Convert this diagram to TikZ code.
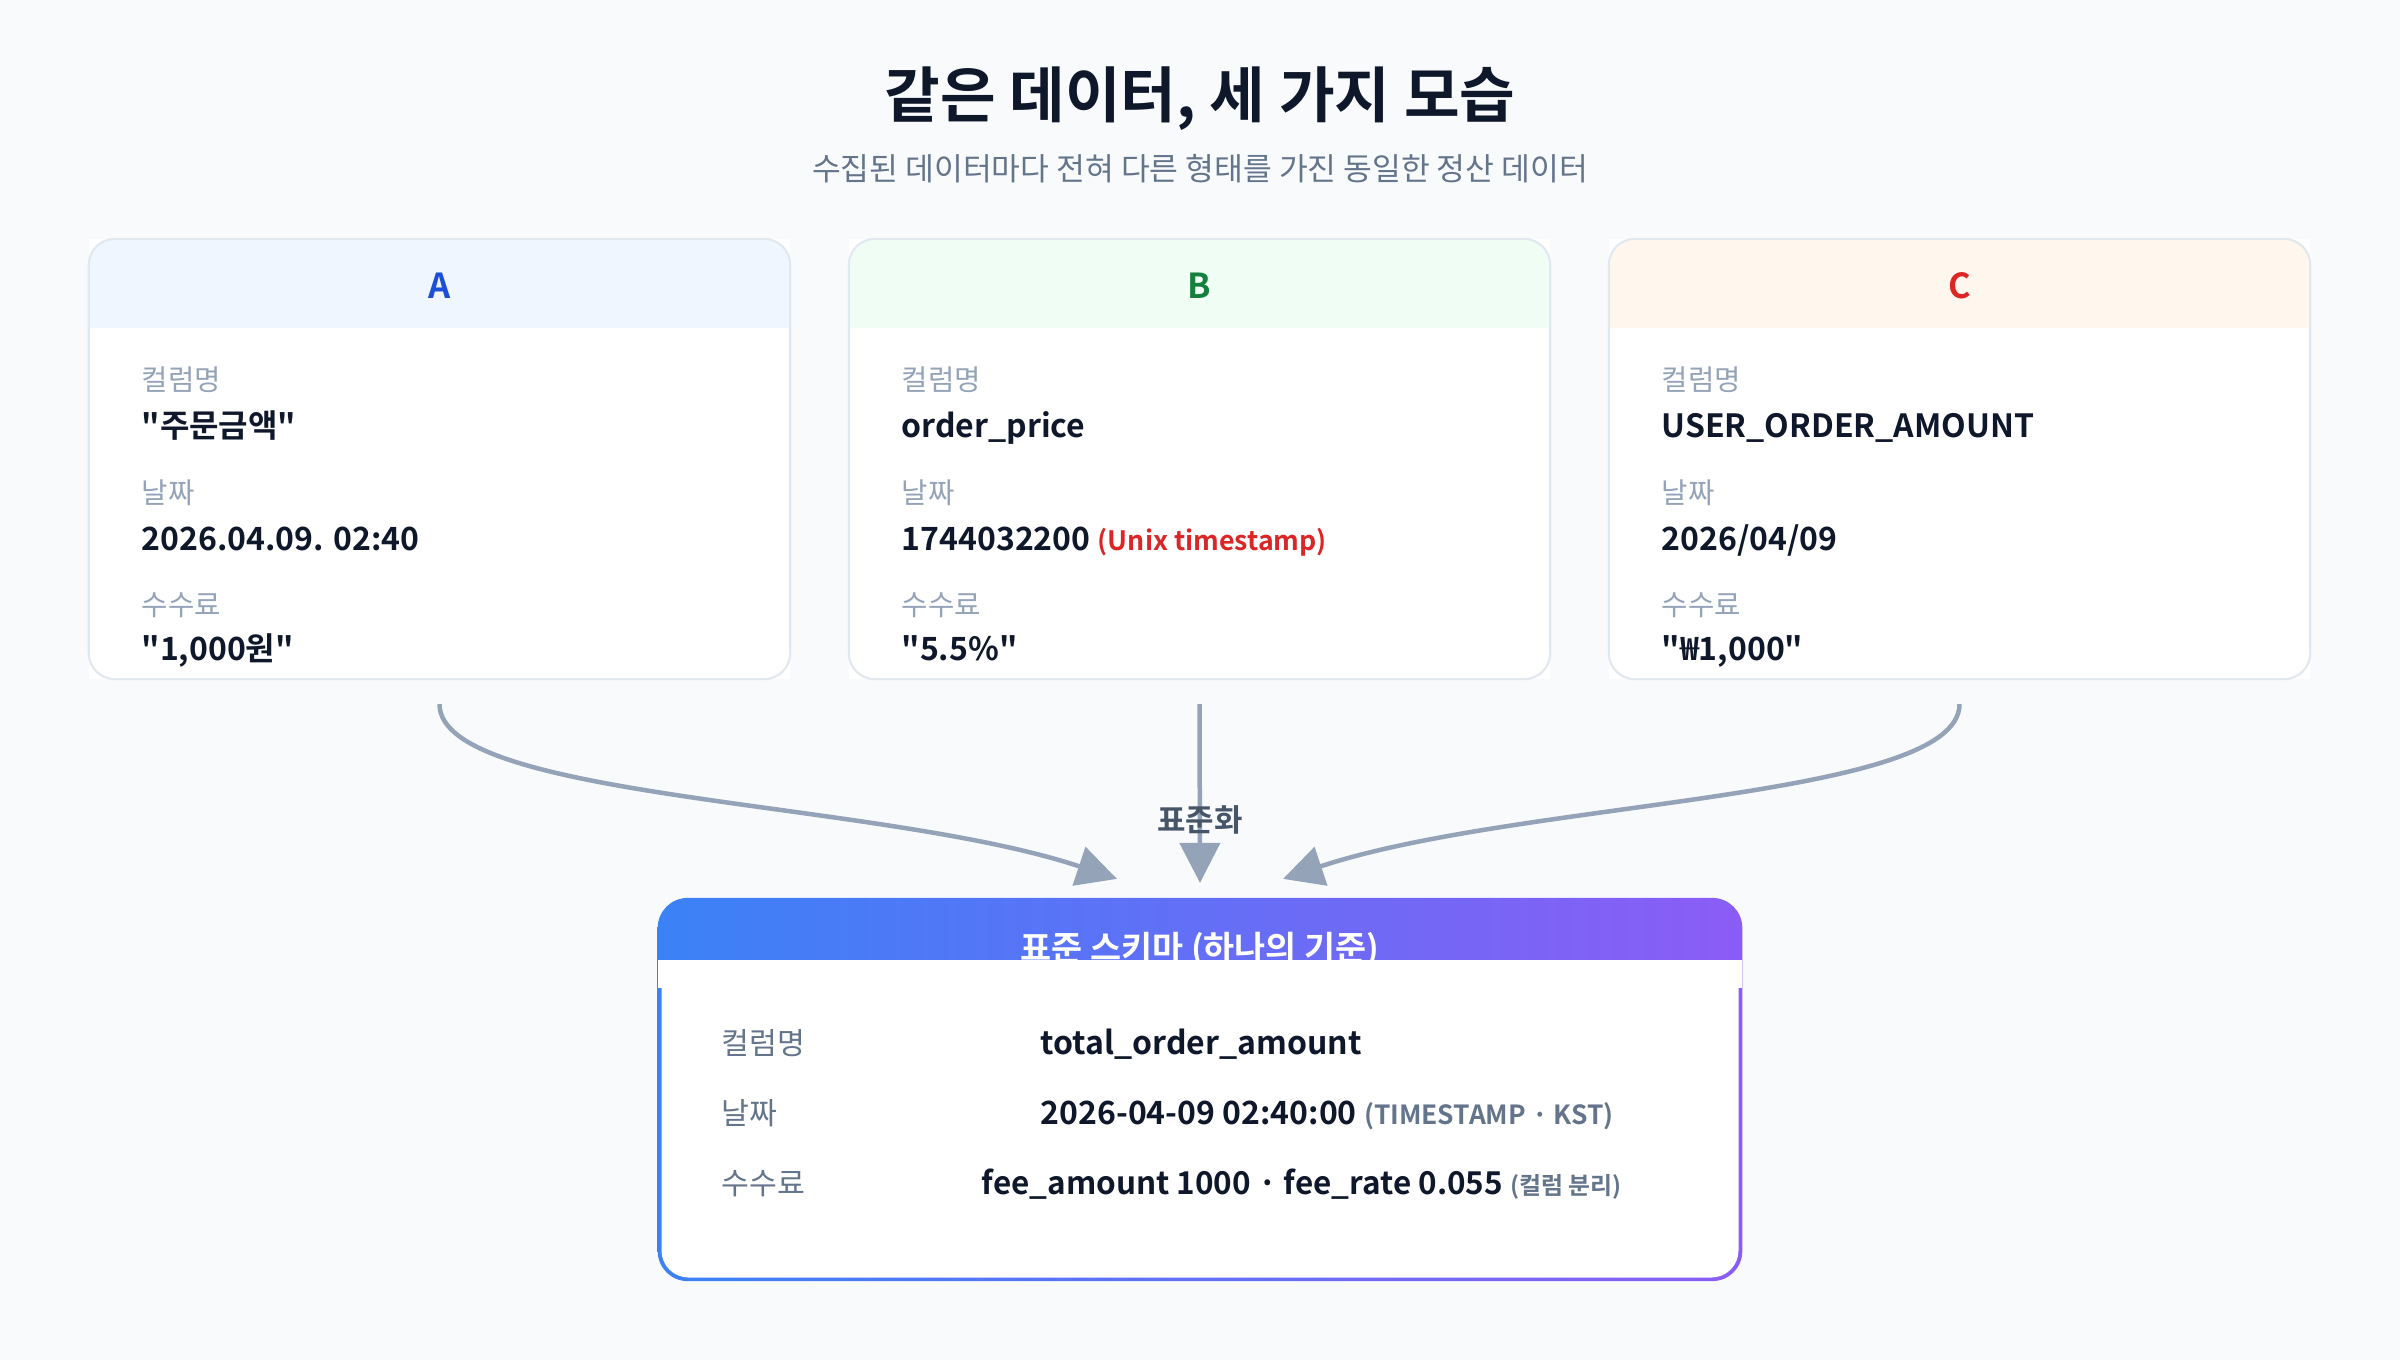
\documentclass[tikz,border=0pt]{standalone}
\usepackage{fontspec}
\setmainfont{Noto Sans CJK KR}[BoldFont={* Bold}, Ligatures=TeXOff]
\usetikzlibrary{arrows.meta,positioning}

\definecolor{bgcol}{HTML}{F8FAFC}
\definecolor{ink}{HTML}{0F172A}
\definecolor{lblgray}{HTML}{94A3B8}
\definecolor{midgray}{HTML}{64748B}
\definecolor{cardline}{HTML}{E2E8F0}
\definecolor{flowgray}{HTML}{94A3B8}
\definecolor{flowtxt}{HTML}{475569}
\definecolor{hdA}{HTML}{EFF6FF}
\definecolor{hdB}{HTML}{F0FDF4}
\definecolor{hdC}{HTML}{FFF7ED}
\definecolor{tcA}{HTML}{1D4ED8}
\definecolor{tcB}{HTML}{15803D}
\definecolor{tcC}{HTML}{DC2626}
\definecolor{warnred}{HTML}{DC2626}
\definecolor{stdblue}{HTML}{3B82F6}
\definecolor{stdviolet}{HTML}{8B5CF6}

\tikzset{
  cardbox/.style={fill=white, inner sep=0, outer sep=0, minimum width=7.01cm, minimum height=4.4cm},
  hdtxt/.style={anchor=base, inner sep=0, font=\fontsize{9.8}{12}\selectfont\bfseries},
  lbl/.style={anchor=base west, inner sep=0, text=lblgray, font=\fontsize{8.15}{10}\selectfont},
  val/.style={anchor=base west, inner sep=0, text=ink, font=\fontsize{9.1}{11}\selectfont\bfseries},
  slbl/.style={anchor=base west, inner sep=0, text=midgray, font=\fontsize{8.6}{10}\selectfont},
  flow/.style={draw=flowgray, line width=0.045cm, -{Triangle[length=0.4cm,width=0.4cm]}},
}

\begin{document}
\begin{tikzpicture}[x=0.01cm, y=-0.01cm]
    \useasboundingbox (0,0) rectangle (2400,1360);
    \fill[bgcol] (0,0) rectangle (2400,1360);

    \node[anchor=base, inner sep=0, text=ink, font=\fontsize{17.2}{20}\selectfont\bfseries] (title) at (1200,117) {같은 데이터, 세 가지 모습};
    \node[anchor=base, inner sep=0, text=midgray, font=\fontsize{8.9}{11}\selectfont] (subtitle) at (1200,180) {수집된 데이터마다 전혀 다른 형태를 가진 동일한 정산 데이터};

    \foreach \n/\cx/\nm/\dt/\fe in {
        A/439.5/{"주문금액"}/{2026.04.09. 02:40}/{"1,000원"},
        B/1199.5/{order\_price}/{1744032200 {\color{warnred}\fontsize{7.6}{9}\selectfont(Unix timestamp)}}/{"5.5\%"},
        C/1959.5/{USER\_ORDER\_AMOUNT}/{2026/04/09}/{"₩1,000"}} {
      \node[cardbox] (card-\n) at (\cx,459) {};
      \begin{scope}
        \clip[rounded corners=0.26cm] (card-\n.north west) rectangle (card-\n.south east);
        \fill[hd\n] (card-\n.north west) rectangle ([yshift=-0.89cm]card-\n.north east);
      \end{scope}
      \draw[cardline, line width=0.6pt, rounded corners=0.26cm] (card-\n.north west) rectangle (card-\n.south east);
      \node[hdtxt, text=tc\n] (head-\n) at (\cx,298) {\n};
      \node[lbl] (l1-\n) at (\cx-298.5,390) {컬럼명};
      \node[val] (v1-\n) at (\cx-298.5,437) {\nm};
      \node[lbl] (l2-\n) at (\cx-298.5,503) {날짜};
      \node[val] (v2-\n) at (\cx-298.5,550) {\dt};
      \node[lbl] (l3-\n) at (\cx-298.5,615) {수수료};
      \node[val] (v3-\n) at (\cx-298.5,660) {\fe};
      \coordinate (out-\n) at ([yshift=-0.25cm]card-\n.south);
    }

    \node[inner sep=0, outer sep=0, minimum width=10.84cm, minimum height=3.83cm] (std) at (1200,1089.5) {};
    \shade[left color=stdblue, right color=stdviolet, rounded corners=0.3cm] (std.north west) rectangle (std.south east);
    \node[anchor=base, inner sep=0, text=white, font=\fontsize{9.6}{12}\selectfont\bfseries] (std-title) at (1200,960) {표준 스키마 (하나의 기준)};
    \fill[white, rounded corners=0.27cm] (661.5,960) rectangle (1738.5,1277.5);
    \fill[white] (std.west |- 0,960) rectangle (std.east |- 0,988);

    \node[slbl] (s1) at (721,1054) {컬럼명};
    \node[val] (t1) at (1040,1054) {total\_order\_amount};
    \node[slbl] (s2) at (721,1124) {날짜};
    \node[val] (t2) at (1040,1124) {2026-04-09 02:40:00 {\color{midgray}\fontsize{7.5}{10}\selectfont(TIMESTAMP · KST)}};
    \node[slbl] (s3) at (721,1194) {수수료};
    \node[val] (t3) at (981,1194) {\fontsize{8.95}{11}\selectfont fee\_amount 1000 · fee\_rate 0.055 {\color{midgray}\fontsize{6.8}{9}\selectfont(컬럼 분리)}};

    \coordinate (in-A) at ([xshift=-0.83cm, yshift=0.19cm]std.north);
    \coordinate (in-B) at ([yshift=0.15cm]std.north);
    \coordinate (in-C) at ([xshift=0.83cm, yshift=0.19cm]std.north);
    \draw[flow] (out-A) .. controls +(0,96) and +(-237,-79) .. (in-A);
    \draw[flow] (out-B) -- (in-B);
    \draw[flow] (out-C) .. controls +(0,96) and +(237,-79) .. (in-C);
    \node[anchor=base, inner sep=0, text=flowtxt, font=\fontsize{8.8}{10}\selectfont\bfseries] (norm) at (1200,831) {표준화};
\end{tikzpicture}
\end{document}
